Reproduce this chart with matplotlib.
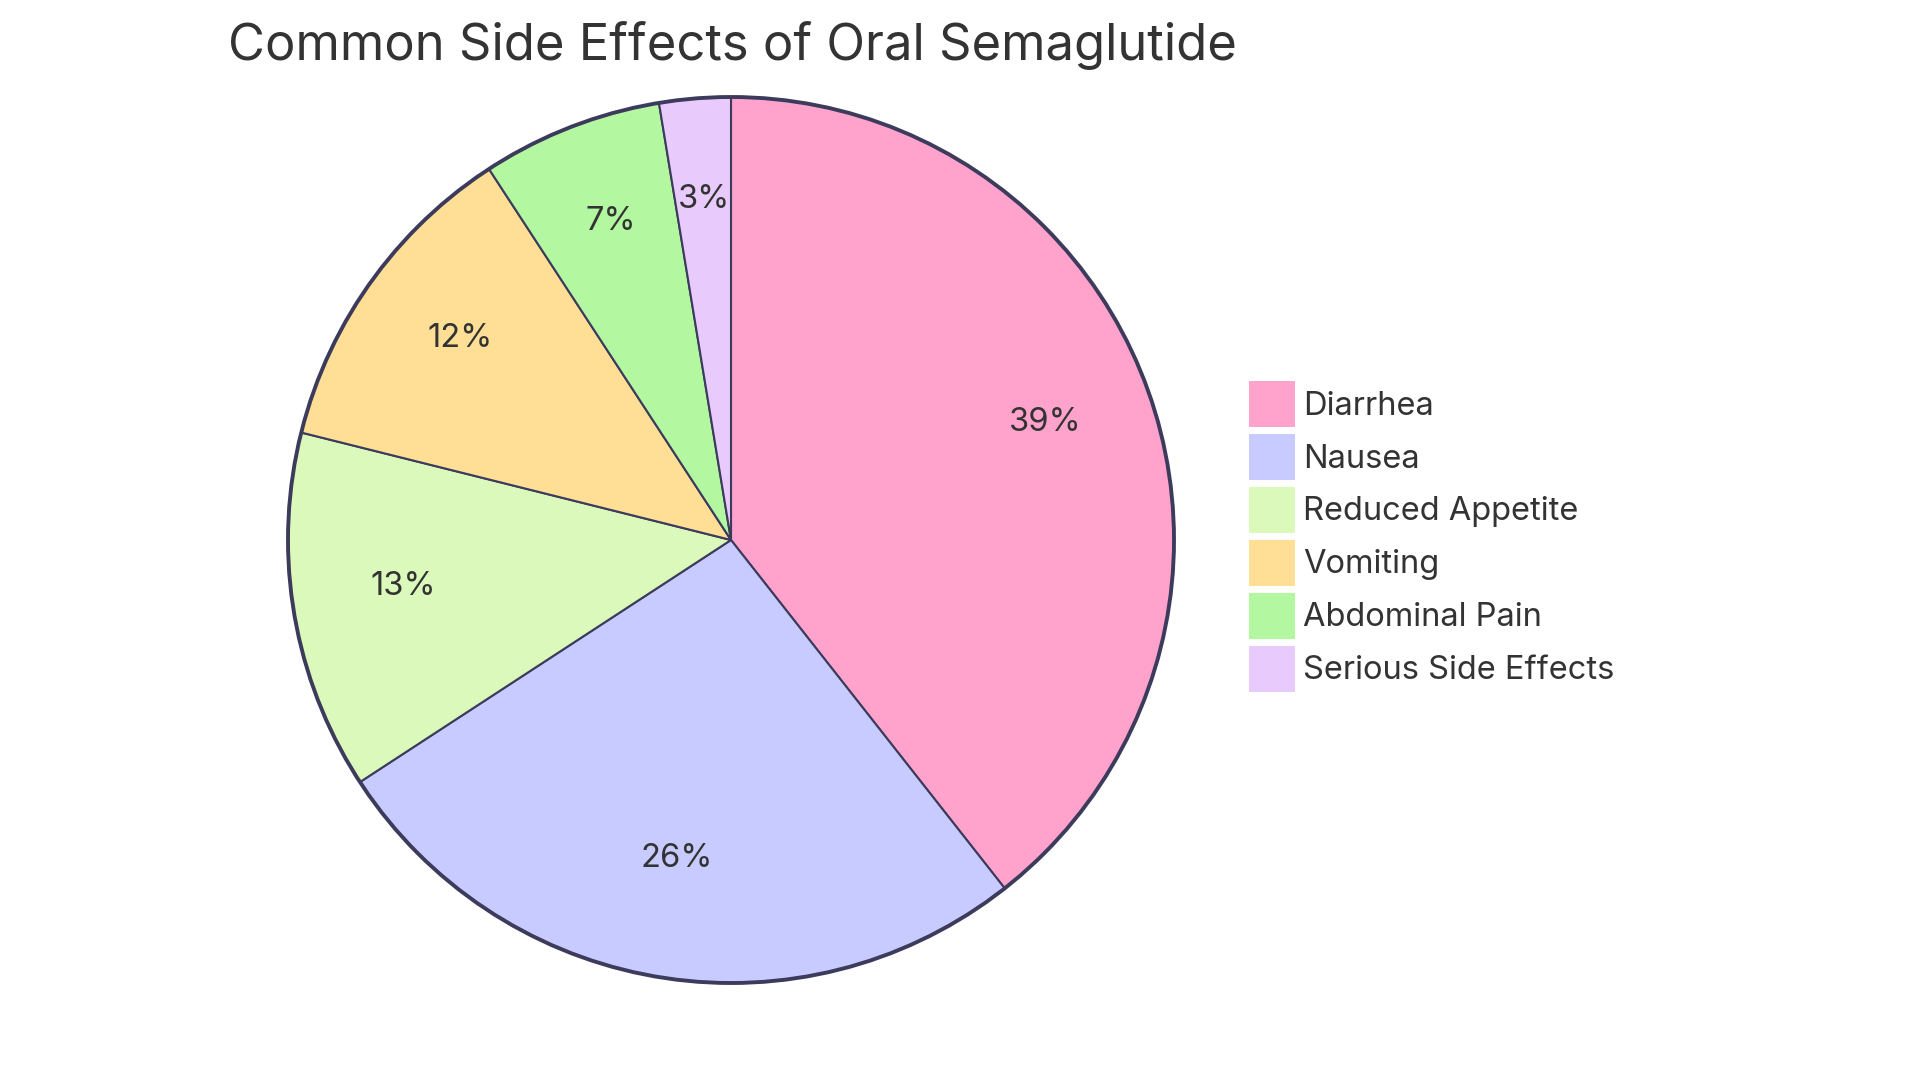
import matplotlib.pyplot as plt
from matplotlib.patches import Patch, Circle

labels = ["Diarrhea", "Nausea", "Reduced Appetite", "Vomiting", "Abdominal Pain", "Serious Side Effects"]
shares = [39.4, 26.4, 13.1, 11.9, 6.6, 2.6]
colors = ["#FFA3CC", "#C8CBFF", "#DBF9BA", "#FEDF95", "#B3F8A0", "#E8CBFC"]

edge = "#3C3B5C"
text_color = "#333333"
plt.rcParams['font.family'] = ['Inter', 'DejaVu Sans']

W, H = 1920, 1083
fig = plt.figure(figsize=(W / 100, H / 100), dpi=100)
fig.patch.set_facecolor("white")

# pie centre and radius in pixels
cx, cy, r = 731, 540, 443
half = r * 1.01
ax = fig.add_axes([(cx - half) / W, (H - cy - half) / H, 2 * half / W, 2 * half / H])

wedges, texts, autotexts = ax.pie(
    shares, colors=colors, startangle=90, counterclock=False, radius=1,
    autopct=lambda p: f"{p:.0f}%", pctdistance=0.75,
    wedgeprops=dict(edgecolor=edge, linewidth=1.5),
    textprops=dict(fontsize=23.5, color=text_color))
for t in autotexts:
    x, y = t.get_position()
    t.set_position((x, y + 0.02))
ax.add_patch(Circle((0, 0), 1, fill=False, edgecolor=edge, linewidth=2.8, zorder=5))
ax.set_xlim(-1.01, 1.01)
ax.set_ylim(-1.01, 1.01)
ax.set_aspect("equal")
ax.axis("off")

fig.text(228 / W, 1 - 45 / H, "Common Side Effects of Oral Semaglutide",
         fontsize=36.5, color=text_color, va="center", ha="left")

handles = [Patch(facecolor=c, edgecolor="none", label=l) for c, l in zip(colors, labels)]
fig.legend(handles=handles, loc="upper left",
           bbox_to_anchor=(1249 / W, 1 - 381 / H), bbox_transform=fig.transFigure,
           frameon=False, fontsize=23.5, labelcolor=text_color,
           handlelength=1.41, handleheight=1.79, handletextpad=0.25,
           labelspacing=0.215, borderpad=0, borderaxespad=0)

fig.savefig("out.png", dpi=100, facecolor="white")
